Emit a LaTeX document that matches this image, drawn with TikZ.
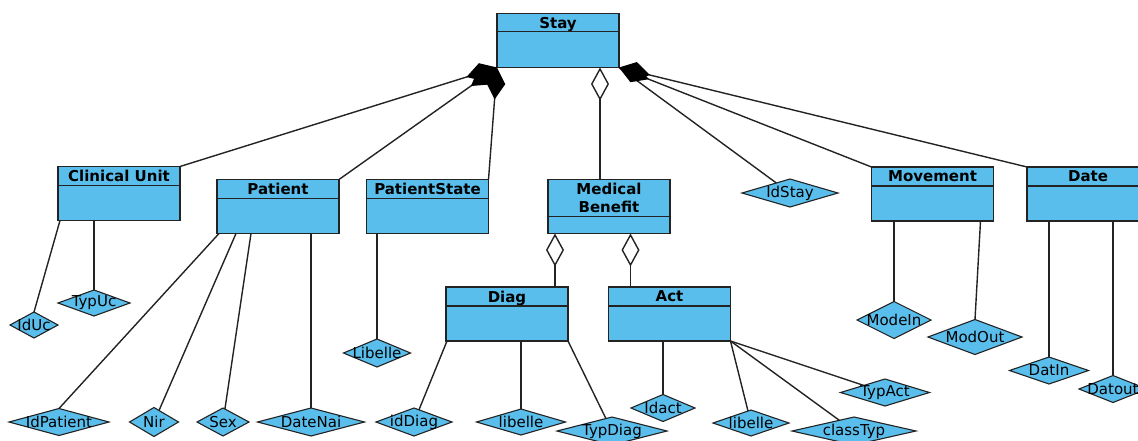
\documentclass[tikz,border=0pt]{standalone}
\usepackage{fontspec}
\setmainfont{DejaVu Sans}
\usetikzlibrary{arrows.meta,shapes.geometric,calc}
\definecolor{umlblue}{RGB}{90,190,236}
\definecolor{umlline}{RGB}{35,35,35}
\tikzset{
  cls/.style={draw=umlline, line width=1.4pt, fill=umlblue, minimum width=122pt,
    minimum height=54pt, inner sep=0pt, outer sep=0pt, label={[ttl]north:#1}},
  ttl/.style={anchor=north, font=\fontsize{15}{17.5}\selectfont\bfseries, inner ysep=3.5pt, align=center},
  attr/.style={shape=diamond, draw=umlline, line width=1.1pt, fill=umlblue, inner sep=0pt,
    outer sep=0pt, label={[font=\fontsize{15}{17.5}\selectfont]center:#1}},
  dsize/.style 2 args={minimum width=#1pt, minimum height=#2pt},
  divider/.style={draw=umlline, line width=1.4pt},
  link/.style={draw=umlline, line width=1.4pt},
  compo/.style={link, -{Diamond[length=32pt,width=19pt,color=black,fill=black]}},
  aggr/.style={link, -{Diamond[open,length=33pt,width=18pt]}},
}
\begin{document}
\begin{tikzpicture}[x=1pt, y=-1pt]
    \useasboundingbox (0,0) rectangle (1138,440);
    \clip (0,0) rectangle (1138,440);
    % Draw the classes
    \node[cls=Stay] (stay) at (558,40.5) {};
    \node[cls=Clinical Unit] (cunit) at (119,193.5) {};
    \node[cls=Patient] (patient) at (278,206.5) {};
    \node[cls=PatientState] (pstate) at (427.5,206.5) {};
    \node[cls={Medical\\Benefit}] (mbenefit) at (609,206.5) {};
    \node[cls=Diag] (diag) at (507,314) {};
    \node[cls=Act] (act) at (669.5,314) {};
    \node[cls=Movement] (movement) at (932.5,194) {};
    \node[cls=Date] (date) at (1088,194) {};
    % Draw the compartment lines
    \draw[divider] ([yshift=-18pt]stay.north west) -- ([yshift=-18pt]stay.north east);
    \draw[divider] ([yshift=-19pt]cunit.north west) -- ([yshift=-19pt]cunit.north east);
    \draw[divider] ([yshift=-19pt]patient.north west) -- ([yshift=-19pt]patient.north east);
    \draw[divider] ([yshift=-19pt]pstate.north west) -- ([yshift=-19pt]pstate.north east);
    \draw[divider] ([yshift=-37pt]mbenefit.north west) -- ([yshift=-37pt]mbenefit.north east);
    \draw[divider] ([yshift=-19pt]diag.north west) -- ([yshift=-19pt]diag.north east);
    \draw[divider] ([yshift=-19pt]act.north west) -- ([yshift=-19pt]act.north east);
    \draw[divider] ([yshift=-19pt]movement.north west) -- ([yshift=-19pt]movement.north east);
    \draw[divider] ([yshift=-19pt]date.north west) -- ([yshift=-19pt]date.north east);
    % Draw the attributes
    \node[attr=IdStay, dsize={96}{28}] (idstay) at (790,193) {};
    \node[attr=IdUc, dsize={48}{26}] (iduc) at (34,325) {};
    \node[attr=TypUc, dsize={72}{26}] (typuc) at (94,303) {};
    \node[attr=IdPatient, dsize={100}{27}] (idpatient) at (59,422) {};
    \node[attr=Nir, dsize={49}{29}] (nir) at (154,422) {};
    \node[attr=Sex, dsize={52}{28}] (sex) at (223,422) {};
    \node[attr=DateNai, dsize={107}{28}] (datenai) at (311,422) {};
    \node[attr=Libelle, dsize={67}{28}] (pslibelle) at (377,353) {};
    \node[attr=idDiag, dsize={76}{28}] (iddiag) at (414,422) {};
    \node[attr=libelle, dsize={89}{26}] (dlibelle) at (521,422) {};
    \node[attr=TypDiag, dsize={110}{28}] (typdiag) at (612,431) {};
    \node[attr=Idact, dsize={64}{27}] (idact) at (663,408) {};
    \node[attr=libelle, dsize={76}{26}] (alibelle) at (751,423) {};
    \node[attr=classTyp, dsize={124}{28}] (classtyp) at (854,431) {};
    \node[attr=TypAct, dsize={89}{27}] (typact) at (885,392.5) {};
    \node[attr=ModeIn, dsize={74}{37}] (modein) at (894,320) {};
    \node[attr=ModOut, dsize={94}{35}] (modout) at (975,337) {};
    \node[attr=DatIn, dsize={79}{27}] (datin) at (1049,370.5) {};
    \node[attr=Datout, dsize={68}{27}] (datout) at (1113,389) {};
    % Draw the links to Stay
    \draw[compo] (cunit.north east) -- (stay.south west);
    \draw[compo] (patient.north east) -- (stay.south west);
    \draw[compo] (pstate.north east) -- (stay.south west);
    \draw[link] (idstay) -- (stay.south east);
    \draw[compo] (movement.north west) -- (stay.south east);
    \draw[compo] (date.north west) -- (stay.south east);
    \draw[aggr] ($(mbenefit.north)+(-9,0)$) coordinate (mbtop) -- (mbtop |- stay.south);
    % Draw the links to Medical Benefit
    \draw[aggr] ($(diag.north east)+(-13,0)$) coordinate (diagtop) -- (diagtop |- mbenefit.south);
    \draw[aggr] ($(act.north west)+(22,0)$) coordinate (acttop) -- (acttop |- mbenefit.south);
    % Draw the attribute links
    \draw[link] ($(cunit.south west)+(2,0)$) -- (iduc.north);
    \draw[link] (typuc.north) -- (typuc.north |- cunit.south);
    \draw[link] ($(patient.south west)+(2,0)$) -- (idpatient.north);
    \draw[link] ($(patient.south west)+(19,0)$) -- (nir);
    \draw[link] ($(patient.south west)+(34,0)$) -- (sex);
    \draw[link] (datenai.north) -- (datenai.north |- patient.south);
    \draw[link] (pslibelle.north) -- (pslibelle.north |- pstate.south);
    \draw[link] ($(diag.south west)+(1,0)$) -- (iddiag);
    \draw[link] (dlibelle.north) -- (dlibelle.north |- diag.south);
    \draw[link] (diag.south east) -- (typdiag);
    \draw[link] (idact.north) -- (idact.north |- act.south);
    \draw[link] (act.south east) -- (alibelle);
    \draw[link] (act.south east) -- (classtyp);
    \draw[link] (act.south east) -- (typact);
    \draw[link] (modein.north) -- (modein.north |- movement.south);
    \draw[link] ($(movement.south east)+(-13,0)$) -- (modout.north);
    \draw[link] (datin.north) -- (datin.north |- date.south);
    \draw[link] (datout.north) -- (datout.north |- date.south);
\end{tikzpicture}
\end{document}
